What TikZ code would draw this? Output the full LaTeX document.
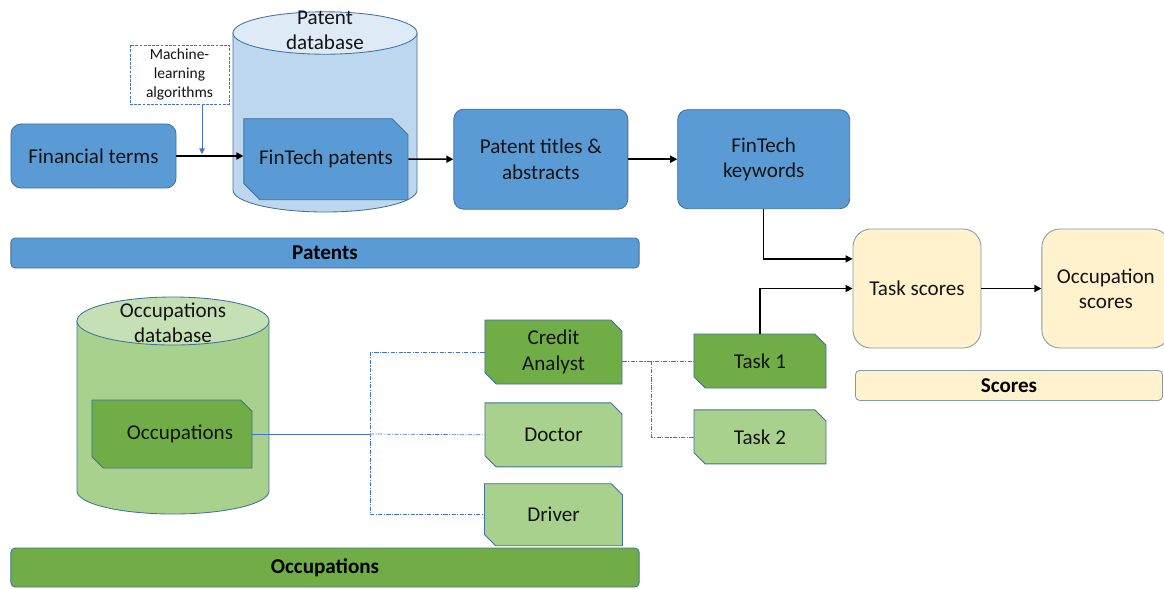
\documentclass[tikz,border=0pt]{standalone}
\usepackage{fontspec}
\setmainfont{Carlito}
\usetikzlibrary{shapes.misc, arrows.meta, positioning, calc}
\definecolor{fillblue}{HTML}{5B9BD5}
\definecolor{lineblue}{HTML}{41719C}
\definecolor{dbblue}{HTML}{BDD7EE}
\definecolor{dbbluetop}{HTML}{DEEBF7}
\definecolor{fillgreen}{HTML}{70AD47}
\definecolor{lightgreen}{HTML}{A9D18E}
\definecolor{dbgreen}{HTML}{A9D18E}
\definecolor{dbgreentop}{HTML}{C5E0B4}
\definecolor{fillcream}{HTML}{FFF2CC}
\definecolor{linegrey}{HTML}{8497B0}
\definecolor{treeblue}{HTML}{4472C4}
\definecolor{mytext}{RGB}{20,20,20}
\newcommand{\boxfont}{\fontsize{15}{18}\selectfont}
\newcommand{\smallboxfont}{\fontsize{11}{13.5}\selectfont}
\tikzset{
  box/.style={rectangle, draw=lineblue, fill=fillblue, align=center,
    rounded corners=0.25cm, line width=0.6pt, font=\boxfont, text=mytext, inner sep=2pt},
  scorebox/.style={rectangle, draw=linegrey, fill=fillcream, align=center,
    rounded corners=0.45cm, line width=0.6pt, font=\boxfont, text=mytext, inner sep=2pt},
  snip/.style={chamfered rectangle, chamfered rectangle corners={north east, south west},
    chamfered rectangle xsep=0.14cm, chamfered rectangle ysep=0.14cm,
    draw=lineblue, align=center, line width=0.6pt, font=\boxfont, text=mytext, inner sep=2pt},
  snipblue/.style={snip, fill=fillblue, chamfered rectangle xsep=0.2cm, chamfered rectangle ysep=0.2cm},
  snipdark/.style={snip, fill=fillgreen},
  sniplight/.style={snip, fill=lightgreen},
  bar/.style={rectangle, draw=lineblue, rounded corners=3pt, line width=0.6pt,
    font=\boxfont\bfseries, text=black, inner sep=0pt},
  mlbox/.style={rectangle, draw=treeblue, dash pattern=on 2pt off 1pt, line width=0.5pt,
    fill=white, align=center, font=\smallboxfont, text=mytext,
    minimum width=2.475cm, minimum height=1.475cm, inner sep=1pt},
  dblabel/.style={align=center, font=\boxfont, text=mytext, inner sep=0pt},
  arrow/.style={-{Triangle[length=5pt, width=5pt]}, line width=1.1pt, color=black},
  mlarrow/.style={-{Triangle[length=4pt, width=4pt]}, line width=0.6pt, color=treeblue},
  trunk/.style={line width=0.5pt, color=treeblue},
  branch/.style={line width=0.5pt, color=treeblue, dash pattern=on 3pt off 1pt on 0.8pt off 1pt}
}

\begin{document}
\begin{tikzpicture}[x=0.025cm, y=-0.025cm]
  \path[use as bounding box, clip] (0,0) rectangle (1164,588);

  % Databases
  \draw[draw=lineblue, fill=dbblue, line width=0.6pt] (233,33) -- (233,190)
    arc[start angle=180, end angle=360, x radius=2.3cm, y radius=0.55cm] -- (417,33) -- cycle;
  \draw[draw=lineblue, fill=dbbluetop, line width=0.6pt] (325,33) ellipse [x radius=2.3cm, y radius=0.53cm];
  \node[dblabel] (patdb) at (325,30) {Patent\\database};

  \draw[draw=lineblue, fill=dbgreen, line width=0.6pt] (77,321) -- (77,491)
    arc[start angle=180, end angle=360, x radius=2.4cm, y radius=0.575cm] -- (269,321) -- cycle;
  \draw[draw=lineblue, fill=dbgreentop, line width=0.6pt] (173,321) ellipse [x radius=2.4cm, y radius=0.6cm];
  \node[dblabel] (occdb) at (173,323) {Occupations\\database};

  % Patents
  \node[box, minimum width=4.125cm, minimum height=1.6cm] (fin) at (93.5,156) {Financial terms};
  \node[snipblue, minimum width=4.1cm, minimum height=2.025cm, right=1.675cm of fin, yshift=-0.08cm] (ftp) {FinTech patents};
  \node[box, minimum width=4.35cm, minimum height=2.5cm, right=1.125cm of ftp] (titles) {Patent titles \&\\abstracts};
  \node[box, minimum width=4.3cm, minimum height=2.475cm, right=1.225cm of titles] (kw) {FinTech\\keywords};
  \node[mlbox] (ml) at (179.5,74.5) {Machine-\\learning\\algorithms};
  \node[bar, fill=fillblue, minimum width=15.7cm, minimum height=0.75cm] (patbar) at (325,253) {Patents};

  % Scores
  \node[scorebox, minimum width=3.2cm, minimum height=2.975cm] (ts) at (917,288.5) {Task scores};
  \node[scorebox, minimum width=3.2cm, minimum height=2.975cm, right=1.5cm of ts] (os) {Occupation\\scores};
  \node[bar, fill=fillcream, draw=linegrey, minimum width=7.675cm, minimum height=0.75cm,
    anchor=north west] (scbar) at (855,370) {Scores};

  % Occupations
  \node[snipdark, minimum width=4cm, minimum height=1.7cm] (occ) at (172,434) {\hspace{0.4cm}Occupations};
  \node[snipdark, minimum width=3.425cm, minimum height=1.6cm] (cred) at (553.5,352) {Credit\\Analyst};
  \node[sniplight, minimum width=3.425cm, minimum height=1.6cm, below=0.45cm of cred] (doc) {Doctor};
  \node[sniplight, minimum width=3.45cm, minimum height=1.55cm, below=0.4cm of doc] (drv) {Driver};
  \node[snipdark, minimum width=3.3cm, minimum height=1.35cm] (t1) at (760,361) {Task 1};
  \node[sniplight, minimum width=3.3cm, minimum height=1.35cm, below=0.525cm of t1] (t2) {Task 2};
  \node[bar, fill=fillgreen, minimum width=15.7cm, minimum height=0.975cm] (occbar) at (325,567.5) {Occupations};

  % Paths
  \draw[arrow] (fin.east) -- (fin.east -| ftp.west);
  \draw[arrow] (ftp) -- (titles);
  \draw[arrow] (titles) -- (kw);
  \coordinate (mlhit) at (202,154);
  \draw[mlarrow] (ml.south -| mlhit) -- (mlhit);
  \draw[arrow] (kw.south) |- ([yshift=0.74cm]ts.west);
  \draw[arrow] (t1.north) |- (ts.west);
  \draw[arrow] (ts) -- (os);

  \coordinate (occsplit) at (370,434);
  \draw[trunk] (occ.east) -- (occsplit);
  \draw[branch] (cred.west) -| (occsplit) |- (drv.west);
  \draw[branch] (occsplit) -- (doc.west);
  \coordinate (tasksplit) at (651,361);
  \draw[branch] (cred.east |- t1.west) -- (t1.west);
  \draw[branch] (tasksplit) |- (t2.west);
\end{tikzpicture}
\end{document}
